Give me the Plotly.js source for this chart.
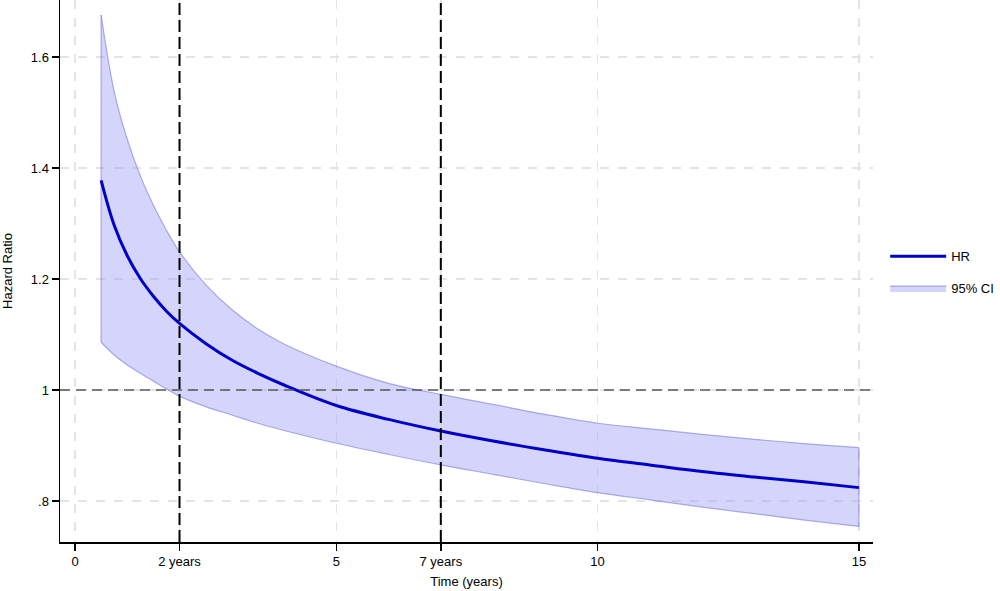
<!DOCTYPE html>
<html>
<head>
<meta charset="utf-8">
<script src="https://cdn.plot.ly/plotly-3.0.1.min.js"></script>
<style>html,body{margin:0;padding:0;background:#fff;}#chart{width:1000px;height:591px;}</style>
</head>
<body>
<div id="chart"></div>
<script>
// Time (years)
const timeYears = [0.5, 0.75, 1, 1.25, 1.5, 1.75, 2, 2.5, 3, 3.5, 4, 5, 6, 7, 8, 9, 10, 11, 12, 13, 14, 15];
// Hazard ratio
const hazardRatio = [1.378, 1.297, 1.242, 1.201, 1.169, 1.142, 1.120, 1.084, 1.054, 1.030, 1.009, 0.972, 0.947, 0.926, 0.908, 0.892, 0.877, 0.865, 0.853, 0.843, 0.834, 0.824];
// 95% CI upper / lower
const ciUpper = [1.676, 1.538, 1.452, 1.386, 1.333, 1.288, 1.249, 1.190, 1.145, 1.110, 1.083, 1.043, 1.012, 0.992, 0.974, 0.956, 0.940, 0.930, 0.920, 0.911, 0.903, 0.896];
const ciLower = [1.086, 1.063, 1.045, 1.030, 1.016, 1.002, 0.989, 0.970, 0.955, 0.940, 0.927, 0.904, 0.884, 0.865, 0.848, 0.831, 0.815, 0.802, 0.789, 0.777, 0.765, 0.754];
// Axis ticks
const xTickVals = [0, 2, 5, 7, 10, 15];
const xTickText = ['0', '2 years', '5', '7 years', '10', '15'];
const yTickVals = [0.8, 1, 1.2, 1.4, 1.6];
const yTickText = ['.8', '1', '1.2', '1.4', '1.6'];
// Reference lines
const refYears = [2, 7];
const refHR = [1];

const bandLine = {color: 'rgba(120,120,220,0.6)', width: 1.2, shape: 'spline', smoothing: 1};
const n = timeYears.length - 1;

const traces = [
  {
    x: timeYears, y: ciLower, type: 'scatter', mode: 'lines',
    line: bandLine, showlegend: false, hoverinfo: 'skip', legendgroup: 'ci'
  },
  {
    x: timeYears, y: ciUpper, type: 'scatter', mode: 'lines', fill: 'tonexty',
    fillcolor: 'rgba(150,150,245,0.4)', line: bandLine,
    name: '95% CI', legendgroup: 'ci', legendrank: 2, hoverinfo: 'skip'
  },
  {
    x: [timeYears[0], timeYears[0], null, timeYears[n], timeYears[n]],
    y: [ciLower[0], ciUpper[0], null, ciLower[n], ciUpper[n]],
    type: 'scatter', mode: 'lines', line: {color: 'rgba(120,120,220,0.6)', width: 1.2},
    showlegend: false, hoverinfo: 'skip', legendgroup: 'ci'
  },
  {
    x: timeYears, y: hazardRatio, type: 'scatter', mode: 'lines',
    line: {color: 'rgb(0,0,200)', width: 3, shape: 'spline', smoothing: 1},
    name: 'HR', legendgroup: 'hr', legendrank: 1
  }
];

const shapes = [];
refYears.forEach(v => shapes.push({
  type: 'line', xref: 'x', yref: 'paper', x0: v, x1: v, y0: 0, y1: 1,
  line: {color: '#000', width: 2, dash: '12px,5px'}, layer: 'above'
}));
refHR.forEach(v => shapes.push({
  type: 'line', xref: 'paper', yref: 'y', x0: 0, x1: 1, y0: v, y1: v,
  line: {color: '#555', width: 1.5, dash: '10px,6px'}, layer: 'above'
}));

const layout = {
  width: 1000, height: 591,
  margin: {l: 60, r: 127, t: 0, b: 49, autoexpand: false},
  paper_bgcolor: '#fff', plot_bgcolor: '#fff',
  font: {family: '"Liberation Sans", Arial, sans-serif', size: 13, color: '#000'},
  showlegend: true,
  legend: {
    x: 1.015, y: 0.555, xanchor: 'left', yanchor: 'top',
    traceorder: 'grouped', tracegroupgap: 12,
    itemwidth: 56, font: {size: 13, color: '#000'},
    bgcolor: 'rgba(0,0,0,0)'
  },
  xaxis: {
    range: [-0.287, 15.27], tickmode: 'array', tickvals: xTickVals, ticktext: xTickText,
    showline: true, linecolor: '#000', linewidth: 1.5,
    ticks: 'outside', ticklen: 7, tickwidth: 1.5, tickcolor: '#000',
    showgrid: true, gridcolor: '#e4e4e4', gridwidth: 1.5, griddash: 'dash',
    zeroline: false, automargin: false,
    title: {text: 'Time (years)', standoff: 9, font: {size: 13}}
  },
  yaxis: {
    range: [0.726, 1.703], tickmode: 'array', tickvals: yTickVals, ticktext: yTickText,
    showline: true, linecolor: '#000', linewidth: 1.5,
    ticks: 'outside', ticklen: 7, tickwidth: 1.5, tickcolor: '#000',
    showgrid: true, gridcolor: '#e4e4e4', gridwidth: 1.5, griddash: 'dash',
    zeroline: false, automargin: false,
    title: {text: 'Hazard Ratio', standoff: 26, font: {size: 13}}
  },
  shapes: shapes
};

Plotly.newPlot('chart', traces, layout, {displayModeBar: false, staticPlot: true});
</script>
</body>
</html>
